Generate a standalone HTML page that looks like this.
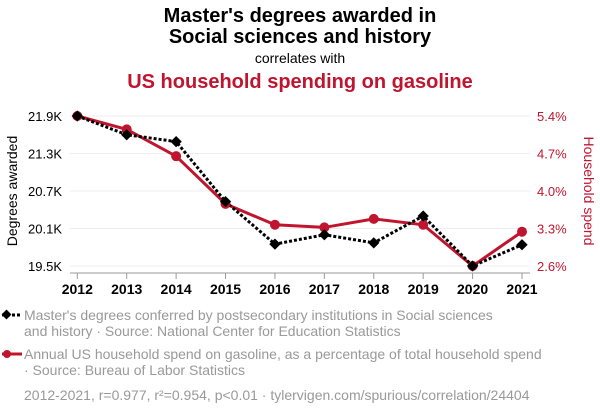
<!DOCTYPE html>
<html><head><meta charset="utf-8"><style>
body{margin:0;background:#fff;font-family:"Liberation Sans",Arial,sans-serif}
svg text{font-family:"Liberation Sans",Arial,sans-serif}
</style></head><body>
<svg id="chart" width="600" height="414" xmlns="http://www.w3.org/2000/svg">
<text x="300" y="22" text-anchor="middle" font-size="20" font-weight="bold">Master's degrees awarded in</text>
<text x="300" y="43" text-anchor="middle" font-size="20" font-weight="bold">Social sciences and history</text>
<text x="300" y="63" text-anchor="middle" font-size="14">correlates with</text>
<text x="300" y="88" text-anchor="middle" font-size="20" font-weight="bold" fill="#c0152f">US household spending on gasoline</text>
<g id="grid"></g>
<line x1="70" y1="273" x2="530" y2="273" stroke="#999"/>
<g id="marks"></g>
<text transform="translate(17,191) rotate(-90)" text-anchor="middle" font-size="14">Degrees awarded</text>
<text transform="translate(584,191) rotate(90)" text-anchor="middle" font-size="14" fill="#c0152f">Household spend</text>
<g>
<line x1="2" y1="315" x2="22" y2="315" stroke="#000" stroke-width="3" stroke-dasharray="3,2"/>
<rect x="3" y="311" width="7" height="7" transform="rotate(45 6.5 314.5)" fill="#000"/>
<text x="24" y="320" font-size="14" fill="#999">Master's degrees conferred by postsecondary institutions in Social sciences</text>
<text x="24" y="336" font-size="14" fill="#999">and history · Source: National Center for Education Statistics</text>
</g>
<g>
<line x1="2" y1="354" x2="22" y2="354" stroke="#c0152f" stroke-width="3"/>
<circle cx="7" cy="354" r="4" fill="#c0152f"/>
<text x="24" y="359" font-size="14" fill="#999">Annual US household spend on gasoline, as a percentage of total household spend</text>
<text x="24" y="375" font-size="14" fill="#999">· Source: Bureau of Labor Statistics</text>
</g>
<text x="24" y="400" font-size="14" fill="#999">2012-2021, r=0.977, r²=0.954, p&lt;0.01 · tylervigen.com/spurious/correlation/24404</text>
</svg>
<script>
const years=[2012,2013,2014,2015,2016,2017,2018,2019,2020,2021];
const degrees=[21.9,21.6,21.49,20.53,19.85,20.0,19.87,20.3,19.5,19.84];
const gasoline=[5.4,5.15,4.65,3.76,3.37,3.32,3.48,3.37,2.6,3.24];
const leftTicks=[21.9,21.3,20.7,20.1,19.5];
const leftLabels=["21.9K","21.3K","20.7K","20.1K","19.5K"];
const rightTicks=[5.4,4.7,4.0,3.3,2.6];
const rightLabels=["5.4%","4.7%","4.0%","3.3%","2.6%"];
const NS="http://www.w3.org/2000/svg";
const x=i=>77.3+i*(522-77.3)/(years.length-1);
const yL=v=>116+(21.9-v)*150/2.4;
const yR=v=>116+(5.4-v)*150/2.8;
function mk(tag,attrs,parent){const e=document.createElementNS(NS,tag);for(const k in attrs)e.setAttribute(k,attrs[k]);parent.appendChild(e);return e;}
const grid=document.getElementById('grid'),marks=document.getElementById('marks');
leftTicks.forEach((t,i)=>{
 const l=mk('line',{x1:70,x2:530,y1:yL(t),y2:yL(t),stroke:'#eee'},grid);
 
 
 const tx=mk('text',{x:62,y:yL(t)+5,'text-anchor':'end','font-size':13},grid);tx.textContent=leftLabels[i];
 
 
});
rightTicks.forEach((t,i)=>{
 const tx=mk('text',{x:537,y:yR(t)+5,'font-size':13,fill:'#c0152f'},grid);tx.textContent=rightLabels[i];
 
 
});
years.forEach((yr,i)=>{
 const tk=mk('line',{x1:x(i),x2:x(i),y1:273,y2:279,stroke:'#999'},grid);
 
 
 const tx=mk('text',{x:x(i),y:294,'text-anchor':'middle','font-size':14,'font-weight':'bold'},grid);tx.textContent=yr;
 
 
});
const rp=mk('polyline',{points:gasoline.map((v,i)=>x(i)+','+yR(v)).join(' '),fill:'none',stroke:'#c0152f','stroke-width':3},marks);


const bp=mk('polyline',{points:degrees.map((v,i)=>x(i)+','+yL(v)).join(' '),fill:'none',stroke:'#000','stroke-width':3,'stroke-dasharray':'3,2'},marks);


gasoline.forEach((v,i)=>{
 const c=mk('circle',{cx:x(i),cy:yR(v),r:5,fill:'#c0152f'},marks);
 
 
});
degrees.forEach((v,i)=>{
 const cx=x(i),cy=yL(v);
 const d=mk('rect',{x:cx-4,y:cy-4,width:8,height:8,fill:'#000',transform:`rotate(45 ${cx} ${cy})`},marks);
 
 
});
</script>
</body></html>
